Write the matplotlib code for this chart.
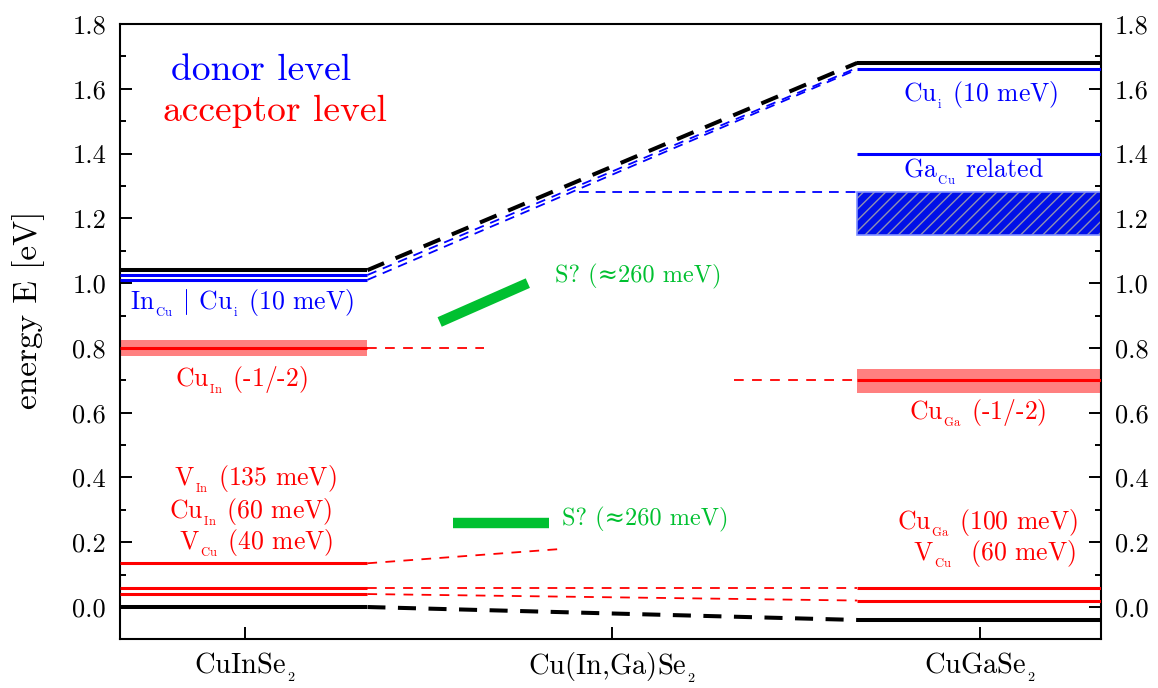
import matplotlib
matplotlib.use("Agg")
import matplotlib.pyplot as plt
from matplotlib.patches import Rectangle
from matplotlib.ticker import MultipleLocator, FormatStrFormatter

plt.rcParams['font.family'] = ['cmr10', 'DejaVu Serif']
plt.rcParams['mathtext.fontset'] = 'cm'
plt.rcParams['axes.formatter.use_mathtext'] = True
plt.rcParams['lines.scale_dashes'] = False
plt.rcParams['hatch.linewidth'] = 1.0

# Host materials along the composition axis
hosts = [r'CuInSe$_{_{2}}$', r'Cu(In,Ga)Se$_{_{2}}$', r'CuGaSe$_{_{2}}$']
host_x = [0, 1, 2]

# Band edges (VBM, CBM) in eV
cis_edges = [0.0, 1.04]
cgs_edges = [-0.04, 1.68]

# Donor levels
cis_donors = [1.025, 1.01]
cgs_donors = [1.66, 1.40]
cgs_gacu_band = [1.15, 1.28]

# Deep acceptors (-1/-2) with uncertainty bands
cis_deep = 0.80
cis_deep_band = [0.775, 0.825]
cgs_deep = 0.70
cgs_deep_band = [0.66, 0.735]

# Shallow acceptors
cis_shallow = [0.135, 0.06, 0.04]
cgs_shallow = [0.06, 0.02]

# Alloy trends (start x, start E, end x, end E)
trend_cbm = [1/3, 1.04, 5/3, 1.68]
trend_vbm = [1/3, 0.0, 5/3, -0.04]
trend_donors = [[1/3, 1.025, 5/3, 1.665], [1/3, 1.01, 5/3, 1.66]]
trend_gacu = [0.91, 1.28, 5/3, 1.28]
trend_acceptors = [[1/3, 0.80, 0.65, 0.80],
                   [1.33, 0.70, 5/3, 0.70],
                   [1/3, 0.135, 0.87, 0.18],
                   [1/3, 0.06, 5/3, 0.06],
                   [1/3, 0.04, 5/3, 0.02]]

# Sulfur-related levels
s_levels = [[0.53, 0.88, 0.77, 1.00], [0.566, 0.26, 0.827, 0.26]]

x_lo, x_hi = -0.34, 2.33
left_end, right_start = 1/3, 5/3

BLUE = '#0000ff'
RED = '#ff0000'
GREEN = '#00c030'

fig = plt.figure(figsize=(11.58, 6.88), dpi=100)
ax = fig.add_axes([120/1158, 48.6/688, 981/1158, 615.4/688])
ax.set_xlim(x_lo, x_hi)
ax.set_ylim(-0.1, 1.8)

def hline(x0, x1, y, color, lw, **kw):
    ax.plot([x0, x1], [y, y], color=color, lw=lw, solid_capstyle='butt', **kw)

# CuInSe2 block
ax.fill_between([x_lo, left_end], cis_deep_band[0], cis_deep_band[1],
                color='#ff8080', lw=0, zorder=1)
hline(x_lo, left_end, cis_deep, RED, 2.2, zorder=3)
for e in cis_shallow:
    hline(x_lo, left_end, e, RED, 2.2, zorder=3)
for e in cis_donors:
    hline(x_lo, left_end, e, BLUE, 2.2, zorder=3)
for e in cis_edges:
    hline(x_lo, left_end, e, 'black', 2.9, zorder=4)

# CuGaSe2 block
ax.fill_between([right_start, x_hi], cgs_deep_band[0], cgs_deep_band[1],
                color='#ff8080', lw=0, zorder=1)
ax.add_patch(Rectangle((right_start, cgs_gacu_band[0]), x_hi - right_start,
                       cgs_gacu_band[1] - cgs_gacu_band[0],
                       facecolor='#0010e8', edgecolor='#9090b0', hatch='///',
                       lw=0, zorder=2))
ax.add_patch(Rectangle((right_start, cgs_gacu_band[0]), x_hi - right_start,
                       cgs_gacu_band[1] - cgs_gacu_band[0],
                       facecolor='none', edgecolor='#8090ff', lw=1.2, zorder=2))
hline(right_start, x_hi, cgs_deep, RED, 2.2, zorder=3)
for e in cgs_shallow:
    hline(right_start, x_hi, e, RED, 2.2, zorder=3)
for e in cgs_donors:
    hline(right_start, x_hi, e, BLUE, 2.2, zorder=3)
for e in cgs_edges:
    hline(right_start, x_hi, e, 'black', 2.9, zorder=4)

# Dashed alloy trends
for seg in [trend_cbm, trend_vbm]:
    ax.plot([seg[0], seg[2]], [seg[1], seg[3]], color='black', lw=2.9,
            dashes=(13, 9), zorder=4)
for seg in trend_donors + [trend_gacu]:
    ax.plot([seg[0], seg[2]], [seg[1], seg[3]], color=BLUE, lw=1.3,
            dashes=(7, 5), zorder=3)
for seg in trend_acceptors:
    ax.plot([seg[0], seg[2]], [seg[1], seg[3]], color=RED, lw=1.3,
            dashes=(7, 6), zorder=3)

# Sulfur levels
for seg in s_levels:
    ax.plot([seg[0], seg[2]], [seg[1], seg[3]], color=GREEN, lw=7.5,
            solid_capstyle='butt', zorder=3)
s_label = 'S? (\u2248260 meV)'
ax.text(0.844, 1.02, s_label, color=GREEN, fontsize=17.5, ha='left', va='center')
ax.text(0.863, 0.27, s_label, color=GREEN, fontsize=17.5, ha='left', va='center')

# Legend-style headings
ax.text(0.044, 1.657, 'donor level', color=BLUE, fontsize=27, ha='center', va='center')
ax.text(0.083, 1.53, 'acceptor level', color=RED, fontsize=27, ha='center', va='center')

# Level labels
fs = 18.5
sub = lambda s: r'$_{_{\mathrm{' + s + '}}}$'
labels = [
    (-0.007, 0.94, 'In' + sub('Cu') + r' $|$ Cu' + sub('i') + ' (10 meV)', BLUE),
    (-0.01, 0.70, 'Cu' + sub('In') + ' (-1/-2)', RED),
    (0.028, 0.395, 'V' + sub('In') + ' (135 meV)', RED),
    (0.016, 0.293, 'Cu' + sub('In') + ' (60 meV)', RED),
    (0.03, 0.198, 'V' + sub('Cu') + ' (40 meV)', RED),
    (2.003, 1.58, 'Cu' + sub('i') + ' (10 meV)', BLUE),
    (1.984, 1.345, 'Ga' + sub('Cu') + ' related', BLUE),
    (1.995, 0.60, 'Cu' + sub('Ga') + ' (-1/-2)', RED),
    (2.02, 0.262, 'Cu' + sub('Ga') + ' (100 meV)', RED),
    (2.04, 0.166, 'V' + sub('Cu') + '  (60 meV)', RED),
]
for x, y, s, c in labels:
    ax.text(x, y, s, color=c, fontsize=fs, ha='center', va='center')

# Axes styling
ax.set_xticks(host_x)
ax.set_xticklabels(hosts, fontsize=20.5)
ax.set_yticks([v / 10 for v in range(0, 19, 2)])
ax.yaxis.set_minor_locator(MultipleLocator(0.1))
ax.yaxis.set_major_formatter(FormatStrFormatter('%.1f'))
ax.tick_params(axis='y', which='major', direction='in', length=8.6, width=1.4,
               labelsize=19, left=True, right=True, labelright=True, pad=10)
ax.tick_params(axis='y', which='minor', direction='in', length=4.3, width=1.4,
               left=True, right=True)
ax.tick_params(axis='x', which='major', direction='in', length=8.6, width=1.4,
               top=False, pad=8)
for sp in ax.spines.values():
    sp.set_linewidth(1.5)
ax.set_ylabel('energy E [eV]', fontsize=24)
ax.yaxis.set_label_coords(-0.0765, 0.535)

fig.savefig('out.png', dpi=100)
